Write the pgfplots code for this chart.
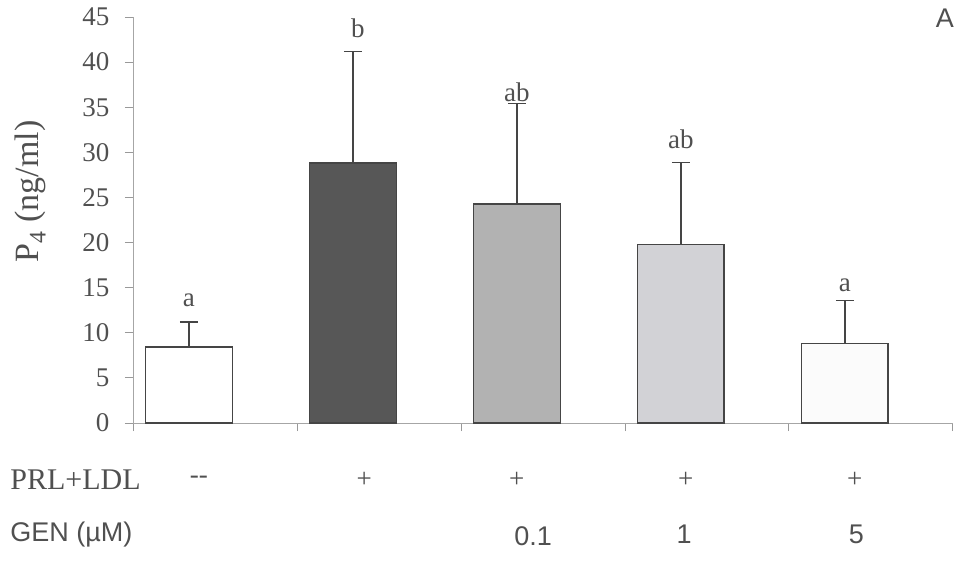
\documentclass[border=0pt]{standalone}
\usepackage{pgfplots}
\pgfplotsset{compat=1.18}
\usepackage{fontspec}
\setmainfont{Liberation Serif}
\newfontfamily\arial{Liberation Sans}
\definecolor{txt}{HTML}{505050}
\definecolor{edge}{HTML}{454545}
\definecolor{barB}{HTML}{575757}
\definecolor{barC}{HTML}{B2B2B2}
\definecolor{barD}{HTML}{D2D2D6}
\definecolor{barE}{HTML}{FBFBFB}
\pgfplotsset{
  mybar/.style={ybar, bar shift=0pt, bar width=0.53, draw=edge, line width=1.6pt, fill=#1,
    error bars/.cd, y dir=plus, y explicit,
    error bar style={draw=edge, line width=1.5pt},
    error mark options={draw=edge, line width=1.5pt, mark size=9pt, rotate=90}},
}
\begin{document}
\begin{tikzpicture}
\begin{axis}[
  scale only axis, width=820pt, height=406pt,
  xmin=-0.341, xmax=4.66, ymin=0, ymax=45,
  axis lines*=left,
  axis line style={color=black!35, line width=0.8pt},
  clip=false,
  xtick={-0.341,0.659,1.659,2.659,3.659,4.659}, xticklabels={},
  ytick={0,5,...,45},
  tick align=outside,
  major tick length=8pt,
  tick style={color=black!40, line width=0.8pt},
  /pgf/number format/assume math mode=true,
  yticklabel style={font=\fontsize{27}{30}\selectfont, text=txt, xshift=-12pt},
  ylabel={P\textsubscript{4} (ng/ml)},
  ylabel style={font=\fontsize{34}{38}\selectfont, text=txt, at={(axis description cs:-0.125,0.57)}, anchor=center},
]
\addplot[mybar=white] coordinates {(0,8.4) +- (0,2.8)};
\addplot[mybar=barB] coordinates {(1,28.8) +- (0,12.4)};
\addplot[mybar=barC] coordinates {(2,24.3) +- (0,11.1)};
\addplot[mybar=barD] coordinates {(3,19.8) +- (0,9.1)};
\addplot[mybar=barE] coordinates {(4,8.8) +- (0,4.8)};
% significance letters
\begin{scope}[every node/.style={font=\fontsize{27}{30}\selectfont, text=txt, anchor=center}]
\node at (axis cs:0,13.6) {a};
\node at (axis cs:1.03,43.8) {b};
\node at (axis cs:2,36.7) {ab};
\node at (axis cs:3,31.4) {ab};
\node at (axis cs:4,15.3) {a};
\end{scope}
% row labels
\node[font=\fontsize{30}{34}\selectfont, text=txt, anchor=west] at (axis cs:-1.11,-6.3) {PRL+LDL};
\begin{scope}[every node/.style={font=\fontsize{27}{30}\selectfont, text=txt, anchor=center}]
\node at (axis cs:0.06,-6.3) {-{}-};
\node at (axis cs:1.07,-6.3) {+};
\node at (axis cs:2.0,-6.3) {+};
\node at (axis cs:3.03,-6.3) {+};
\node at (axis cs:4.06,-6.3) {+};
\end{scope}
\node[font=\arial\fontsize{27}{30}\selectfont, text=txt, anchor=west] at (axis cs:-1.11,-12.4) {GEN (µM)};
\begin{scope}[every node/.style={font=\arial\fontsize{27}{30}\selectfont, text=txt, anchor=center}]
\node at (axis cs:2.10,-12.6) {0.1};
\node at (axis cs:3.02,-12.3) {1};
\node at (axis cs:4.07,-12.3) {5};
\node at (axis cs:4.61,44.9) {A};
\end{scope}
\end{axis}
\path[use as bounding box] (-133pt,-137pt) rectangle (827pt,423pt);
\end{tikzpicture}
\end{document}
